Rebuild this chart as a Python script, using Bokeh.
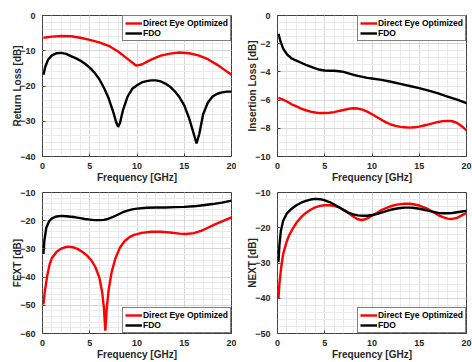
from bokeh.plotting import figure
from bokeh.layouts import gridplot
from bokeh.models import Range1d, SingleIntervalTicker, Legend, LegendItem
from bokeh.embed import file_html
from bokeh.resources import INLINE

# ---- data ----
rl_red_x = [0.1, 1, 2, 3, 4, 5, 6, 7, 8, 9, 9.9, 10.5, 11.5, 12.5, 13.5, 14.5, 15.5, 16.5, 17.5, 18.5, 19.3, 20]
rl_red_y = [-6.3, -6.0, -5.8, -5.9, -6.3, -6.9, -7.6, -8.6, -10.2, -12.3, -14.2, -13.9, -12.5, -11.4, -10.8, -10.5,
            -10.7, -11.3, -12.4, -14.0, -15.5, -16.8]
rl_blk_x = [0.1, 0.3, 0.6, 1.0, 1.5, 2.0, 2.5, 3.0, 3.5, 4.0, 4.5, 5.0, 5.5, 6.0, 6.5, 7.0, 7.5, 7.8, 8.0, 8.2, 8.5,
            9.0, 9.5, 10, 10.5, 11, 11.5, 12, 12.5, 13, 13.5, 14, 14.5, 15, 15.5, 16.0, 16.3, 16.6, 17.0, 17.5, 18,
            18.5, 19, 19.5, 20]
rl_blk_y = [-16.8, -14.5, -12.5, -11.3, -10.7, -10.6, -10.9, -11.5, -12.1, -12.8, -13.7, -14.8, -16.2, -18.0, -20.5,
            -23.5, -27.5, -30.3, -31.6, -30.5, -27.0, -23.0, -20.8, -19.8, -19.0, -18.6, -18.4, -18.4, -18.7, -19.3,
            -20.2, -21.5, -23.2, -25.5, -29.0, -33.5, -36.3, -33.5, -28.0, -24.7, -23.0, -22.2, -21.8, -21.6, -21.6]

il_blk_x = [0.1, 0.3, 0.6, 1.0, 1.5, 2.0, 2.5, 3, 3.5, 4, 4.5, 5, 5.5, 6, 6.5, 7, 7.5, 8, 8.5, 9, 9.5, 10, 11, 12,
            13, 14, 15, 16, 17, 18, 19, 20]
il_blk_y = [-1.3, -1.8, -2.35, -2.75, -3.05, -3.2, -3.35, -3.5, -3.62, -3.75, -3.85, -3.9, -3.92, -3.92, -3.95, -4.0,
            -4.1, -4.2, -4.28, -4.35, -4.42, -4.47, -4.57, -4.7, -4.85, -5.0, -5.15, -5.33, -5.53, -5.75, -5.97, -6.22]
il_red_x = [0.1, 0.5, 1, 1.5, 2, 2.5, 3, 3.5, 4, 4.5, 5, 5.5, 6, 6.5, 7, 7.5, 8, 8.5, 9, 9.5, 10, 10.5, 11, 11.5,
            12, 12.5, 13, 13.5, 14, 14.5, 15, 15.5, 16, 16.5, 17, 17.5, 18, 18.5, 19, 19.5, 20]
il_red_y = [-5.85, -5.95, -6.1, -6.3, -6.45, -6.6, -6.72, -6.82, -6.88, -6.92, -6.92, -6.9, -6.85, -6.77, -6.7, -6.62,
            -6.58, -6.6, -6.68, -6.82, -7.0, -7.2, -7.4, -7.58, -7.73, -7.83, -7.9, -7.93, -7.95, -7.93, -7.88, -7.8,
            -7.72, -7.63, -7.55, -7.49, -7.47, -7.5, -7.62, -7.85, -8.15]

fx_blk_x = [0.1, 0.2, 0.4, 0.7, 1, 1.5, 2, 2.5, 3, 3.5, 4, 4.5, 5, 5.5, 6, 6.5, 7, 7.5, 8, 8.5, 9, 9.5, 10, 11, 12,
            13, 14, 15, 16, 17, 18, 19, 20]
fx_blk_y = [-31.8, -27, -22.5, -20.2, -19.2, -18.5, -18.3, -18.4, -18.6, -18.8, -19.1, -19.4, -19.6, -19.8, -19.8,
            -19.7, -19.3, -18.6, -17.8, -17.0, -16.4, -16.0, -15.7, -15.4, -15.3, -15.3, -15.2, -15.1, -14.9, -14.5,
            -14.1, -13.6, -12.9]
fx_red_x = [0.1, 0.25, 0.5, 0.75, 1, 1.5, 2, 2.5, 2.8, 3.2, 3.7, 4.2, 4.7, 5.2, 5.6, 6.0, 6.3, 6.5, 6.65, 6.8, 7.0,
            7.3, 7.7, 8.2, 8.7, 9.2, 9.7, 10.5, 11.5, 12.5, 13.5, 14.5, 15.2, 16, 16.8, 17.5, 18.3, 19.2, 20]
fx_red_y = [-49.7, -45, -39.5, -35.5, -33.2, -31.0, -29.9, -29.3, -29.2, -29.4, -30.0, -31.0, -32.3, -34.2, -36.5,
            -40.0, -45.0, -51.0, -59.0, -51.0, -44.5, -38.5, -33.5, -29.5, -27.2, -25.8, -25.0, -24.3, -23.9, -23.9,
            -24.2, -24.6, -24.7, -24.4, -23.6, -22.5, -21.2, -20.0, -18.8]

nx_blk_x = [0.1, 0.2, 0.35, 0.6, 1, 1.5, 2, 2.5, 3, 3.5, 4, 4.5, 5, 5.5, 6, 6.5, 7, 7.5, 8, 8.5, 9, 9.5, 10, 10.5,
            11, 11.5, 12, 12.5, 13, 13.5, 14, 14.5, 15, 15.5, 16, 16.5, 17, 17.5, 18, 18.5, 19, 19.5, 20]
nx_blk_y = [-29.7, -25, -21, -18, -15.9, -14.6, -13.6, -12.9, -12.4, -12.0, -11.8, -11.9, -12.2, -12.7, -13.4, -14.2,
            -15.0, -15.7, -16.2, -16.5, -16.6, -16.6, -16.4, -16.1, -15.7, -15.3, -14.9, -14.6, -14.4, -14.3, -14.3,
            -14.4, -14.6, -14.9, -15.2, -15.5, -15.8, -15.9, -15.9, -15.8, -15.6, -15.4, -15.2]
nx_red_x = [0.1, 0.2, 0.4, 0.6, 0.9, 1.2, 1.6, 2, 2.5, 3, 3.5, 4, 4.5, 5, 5.5, 6, 6.5, 7, 7.5, 8, 8.5, 8.9, 9.3, 9.8,
            10.5, 11, 11.5, 12, 12.5, 13, 13.5, 14, 14.5, 15, 15.5, 16, 16.5, 17, 17.5, 18, 18.5, 19, 19.5, 20]
nx_red_y = [-40.1, -36, -31, -27.5, -24.5, -22.3, -20.3, -18.6, -17.0, -15.8, -14.9, -14.2, -13.8, -13.6, -13.6,
            -13.8, -14.2, -14.9, -15.8, -16.8, -17.6, -17.8, -17.6, -16.9, -15.8, -15.0, -14.4, -13.9, -13.5, -13.3,
            -13.2, -13.2, -13.4, -13.7, -14.2, -14.8, -15.6, -16.4, -17.0, -17.4, -17.5, -17.2, -16.5, -15.8]

legend_labels = ["Direct Eye Optimized", "FDO"]
x_label = "Frequency [GHz]"

FONT = "Liberation Sans"


def make_fig(width, height, left, right, top, bottom, ylabel, yr, yint, ynminor,
             rx, ry, bx, by, loc):
    p = figure(width=width, height=height, x_range=Range1d(0, 20), y_range=Range1d(*yr),
               output_backend="svg", toolbar_location=None,
               min_border_left=left, min_border_right=right,
               min_border_top=top, min_border_bottom=bottom)
    p.xaxis.ticker = SingleIntervalTicker(interval=5, num_minor_ticks=5)
    p.yaxis.ticker = SingleIntervalTicker(interval=yint, num_minor_ticks=ynminor)
    p.xaxis.axis_label = x_label
    p.yaxis.axis_label = ylabel
    for ax in (p.xaxis[0], p.yaxis[0]):
        ax.axis_label_text_font = FONT
        ax.axis_label_text_font_style = "bold"
        ax.axis_label_text_font_size = "10px"
        ax.axis_label_text_color = "#262626"
        ax.major_label_text_font = FONT
        ax.major_label_text_font_style = "bold"
        ax.major_label_text_font_size = "9px"
        ax.major_label_text_color = "#262626"
        ax.axis_line_color = None
        ax.major_tick_in = 3
        ax.major_tick_out = 0
        ax.major_tick_line_color = "#404040"
        ax.minor_tick_line_color = None
        ax.major_label_standoff = 3
    p.yaxis[0].axis_label_standoff = -6
    p.xaxis[0].major_label_standoff = 2
    p.xaxis[0].axis_label_standoff = 0
    p.xgrid.grid_line_color = "#d6d6d6"
    p.ygrid.grid_line_color = "#d6d6d6"
    p.xgrid.minor_grid_line_color = "#ebebeb"
    p.ygrid.minor_grid_line_color = "#ebebeb"
    p.outline_line_color = "#404040"
    p.outline_line_width = 1
    p.background_fill_color = "white"

    r1 = p.line(rx, ry, line_color="#ff0000", line_width=2.4)
    r2 = p.line(bx, by, line_color="black", line_width=2.4)
    leg = Legend(items=[LegendItem(label=legend_labels[0], renderers=[r1]),
                        LegendItem(label=legend_labels[1], renderers=[r2])],
                 location=loc)
    leg.margin = 0
    leg.padding = 2
    leg.spacing = 0
    leg.label_height = 10
    leg.glyph_height = 10
    leg.glyph_width = 17
    leg.label_standoff = 1
    leg.label_text_font = FONT
    leg.label_text_font_size = "8.5px"
    leg.label_text_font_style = "bold"
    leg.label_text_color = "black"
    leg.border_line_color = "black"
    leg.border_line_width = 1
    leg.background_fill_alpha = 1.0
    p.add_layout(leg)
    return p


p1 = make_fig(236, 186, 42, 5, 15, 30, "Return Loss [dB]", (-40, 0), 10, 5,
              rl_red_x, rl_red_y, rl_blk_x, rl_blk_y, "top_right")
p2 = make_fig(236, 186, 41, 6, 15, 30, "Insertion Loss [dB]", (-10, 0), 2, 4,
              il_red_x, il_red_y, il_blk_x, il_blk_y, "top_right")
p3 = make_fig(236, 176, 42, 5, 6, 29, "FEXT [dB]", (-60, -10), 10, 5,
              fx_red_x, fx_red_y, fx_blk_x, fx_blk_y, "bottom_right")
p4 = make_fig(236, 176, 41, 6, 6, 29, "NEXT [dB]", (-50, -10), 10, 5,
              nx_red_x, nx_red_y, nx_blk_x, nx_blk_y, "bottom_right")

grid = gridplot([[p1, p2], [p3, p4]], toolbar_location=None)

open("out.html", "w").write(file_html(grid, INLINE))
